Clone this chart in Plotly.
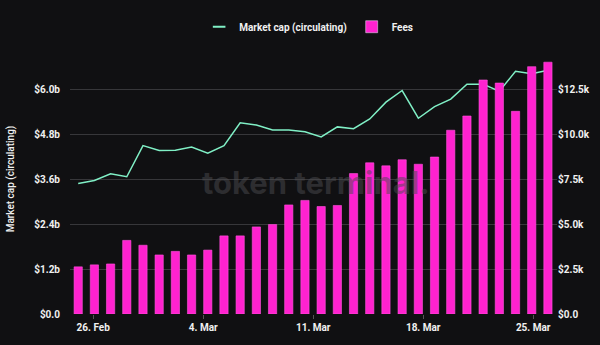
import plotly.graph_objects as go

# Daily series (index 0 = first day shown)
market_cap_b = [3.48, 3.56, 3.74, 3.66, 4.49, 4.36, 4.37, 4.45, 4.29, 4.49,
                5.10, 5.04, 4.91, 4.91, 4.86, 4.72, 4.99, 4.94, 5.20, 5.65,
                5.96, 5.22, 5.53, 5.73, 6.13, 6.13, 5.94, 6.47, 6.41, 6.50]
fees_k = [2.62, 2.73, 2.78, 4.09, 3.82, 3.28, 3.48, 3.28, 3.55, 4.34,
          4.34, 4.84, 4.97, 6.06, 6.31, 5.97, 6.03, 7.80, 8.40, 8.23,
          8.57, 8.32, 8.72, 10.21, 11.00, 13.00, 12.83, 11.26, 13.74, 13.99]

x_labels = ["26. Feb", "4. Mar", "11. Mar", "18. Mar", "25. Mar"]
x_label_pos = [0.93, 7.72, 14.51, 21.30, 28.09]

left_ticks = [0, 1.2, 2.4, 3.6, 4.8, 6.0, 7.2]
left_text = ["$0.0", "$1.2b", "$2.4b", "$3.6b", "$4.8b", "$6.0b", ""]
right_ticks = [0, 2.5, 5.0, 7.5, 10.0, 12.5, 15.0]
right_text = ["$0.0", "$2.5k", "$5.0k", "$7.5k", "$10.0k", "$12.5k", ""]

BG = "#101012"
PINK = "#ff22cf"
MINT = "#80f0c6"
TEXT = "#f0f0f0"
GRID = "#37373a"
FONT = "Roboto"

days = list(range(len(fees_k)))

fig = go.Figure()

fig.add_trace(go.Bar(
    x=days, y=fees_k, name="Fees", yaxis="y2",
    marker=dict(color=PINK, line=dict(color="#ff55dc", width=0.6)),
    showlegend=False,
))
fig.add_trace(go.Scatter(
    x=days, y=market_cap_b, name="Market cap (circulating)", mode="lines",
    line=dict(color=MINT, width=1.5), showlegend=False,
))
# legend entries
fig.add_trace(go.Scatter(
    x=[None], y=[None], name="Market cap (circulating)", mode="markers",
    marker=dict(symbol="line-ew-open", size=9, color=MINT, line=dict(color=MINT, width=2)),
))
fig.add_trace(go.Bar(
    x=[None], y=[None], name="Fees", yaxis="y2", marker=dict(color=PINK),
))

fig.update_layout(
    width=600, height=345,
    margin=dict(l=70, r=43, t=36, b=29),
    paper_bgcolor=BG, plot_bgcolor=BG,
    font=dict(family=FONT, size=10, color=TEXT, weight=700),
    bargap=0.49,
    barmode="overlay",
    showlegend=True,
    legend=dict(orientation="h", x=0.49, xanchor="center", y=1.064, yanchor="middle",
                font=dict(size=10, color=TEXT, family=FONT, weight=700),
                bgcolor="rgba(0,0,0,0)", itemwidth=30, tracegroupgap=0),
    xaxis=dict(range=[-0.506, 29.56], tickvals=x_label_pos, ticktext=x_labels,
               showgrid=False, zeroline=False, showline=False,
               ticks="outside", ticklen=4, tickcolor="#555", tickwidth=1,
               tickfont=dict(size=10, color=TEXT)),
    yaxis=dict(range=[0, 7.2], tickvals=left_ticks, ticktext=left_text,
               showgrid=True, gridcolor=GRID, gridwidth=1, zeroline=False,
               showline=False, ticks="", automargin=False, ticklabelstandoff=9,
               title=dict(text="Market cap (circulating)", standoff=17,
                          font=dict(size=10, color=TEXT, family=FONT, weight=500)),
               tickfont=dict(size=10, color=TEXT)),
    yaxis2=dict(range=[0, 15], tickvals=right_ticks, ticktext=right_text,
                overlaying="y", side="right", showgrid=False, zeroline=False,
                showline=False, ticks="", automargin=False,
                tickfont=dict(size=10, color=TEXT)),
    annotations=[dict(
        text="token terminal.", xref="paper", yref="paper", x=0.505, y=0.486,
        showarrow=False, xanchor="center", yanchor="middle",
        font=dict(family="Inter", size=31, color="rgba(75,75,78,0.5)", weight=700),
    )],
)

fig.write_html("out.html")
